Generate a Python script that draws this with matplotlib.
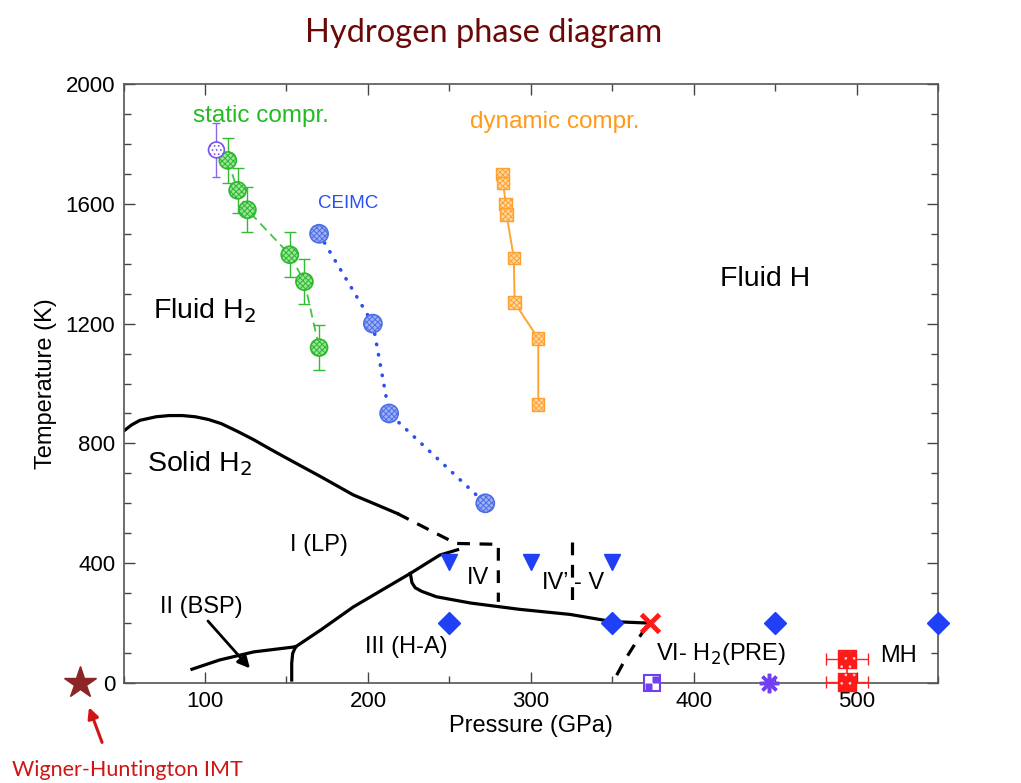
import matplotlib.pyplot as plt
from matplotlib.path import Path
from matplotlib.patches import FancyArrowPatch
from matplotlib.ticker import MultipleLocator

plt.rcParams['font.family'] = ['Liberation Sans', 'DejaVu Sans']
plt.rcParams['hatch.linewidth'] = 0.7

# static compression melting data (DAC)
static_p = [114, 120, 126, 152, 161, 170]
static_t = [1745, 1645, 1580, 1430, 1340, 1120]
static_terr = [75, 75, 75, 75, 75, 75]
old_p = [107]
old_t = [1780]
old_perr = [4]
old_terr = [90]

# CEIMC melting/dissociation points
ceimc_p = [170, 203, 213, 272]
ceimc_t = [1500, 1200, 900, 600]

# dynamic compression points
dyn_p = [282.5, 283, 284.5, 285, 289.5, 290, 304.5, 304.5]
dyn_t = [1700, 1670, 1600, 1565, 1420, 1270, 1150, 930]

# phase boundaries
melt_p = [50, 55, 60, 70, 78, 86, 94, 102, 110, 120, 130, 140, 150, 171, 191, 205, 218]
melt_t = [841, 862, 877, 889, 893, 893, 889, 880, 866, 840, 812, 781, 751, 689, 628, 596, 566]
melt_dash_p = [218, 242, 254, 280, 280]
melt_dash_t = [566, 499, 466, 463, 271]
iv_v_p = [325, 325]
iv_v_t = [471, 271]
i_iii_p = [155.6, 171, 191, 226, 244, 255]
i_iii_t = [121, 177, 254, 366, 427, 445]
ii_i_p = [92, 109, 130, 155.6]
ii_i_t = [46, 77, 104, 121]
ii_iii_p = [155.6, 153.8, 153.2, 153.2]
ii_iii_t = [121, 99, 66, 10]
iii_iv_p = [226, 227, 229, 233, 242, 263, 293, 324, 350, 373]
iii_iv_t = [366, 335, 318, 306, 288, 267, 246, 229, 205, 200]
vi_p = [371, 365, 358, 350]
vi_t = [190, 140, 80, 0]

# QMC / DFT points
tri_p = [250, 300, 350]
tri_t = [405, 405, 405]
dia_p = [250, 350, 450, 550]
dia_t = [200, 200, 200, 200]
cross_p = [373]
cross_t = [200]
sq_p = [374]
sq_t = [0]
ast_p = [446]
ast_t = [0]
mh_p = [494, 494]
mh_t = [80, 5]
mh_perr = [13, 13]

wh_p = [23.3]
wh_t = [0]

fig = plt.figure(figsize=(10.21, 7.83), dpi=100)
ax = fig.add_axes([0.121, 0.1277, 0.798, 0.765])

# boundaries
lw_b = 2.3
dash = (0, (4, 3))
ax.plot(melt_p, melt_t, color='black', lw=lw_b)
ax.plot(melt_dash_p, melt_dash_t, color='black', lw=lw_b, ls=dash)
ax.plot(iv_v_p, iv_v_t, color='black', lw=lw_b, ls=dash)
ax.plot(i_iii_p, i_iii_t, color='black', lw=lw_b)
ax.plot(ii_i_p, ii_i_t, color='black', lw=lw_b)
ax.plot(ii_iii_p, ii_iii_t, color='black', lw=lw_b)
ax.plot(iii_iv_p, iii_iv_t, color='black', lw=lw_b)
ax.plot(vi_p, vi_t, color='black', lw=lw_b, ls=dash)

# static compression
ax.plot(static_p, static_t, color='#44c444', lw=1.3, ls=(0, (5, 3)), zorder=3)
ax.errorbar(static_p, static_t, yerr=static_terr, fmt='none', ecolor='#33bb33',
            elinewidth=1.0, capsize=4, zorder=3)
ax.scatter(static_p, static_t, s=150, facecolor='#9be49b', edgecolor='#2db82d',
           hatch='xxxxxx', linewidth=1.2, zorder=4)
ax.errorbar(old_p, old_t, xerr=old_perr, yerr=old_terr, fmt='none',
            ecolor='#8866ee', elinewidth=1.0, capsize=3, zorder=3)
ax.scatter(old_p, old_t, s=130, facecolor='white', edgecolor='#7755ee',
           hatch='....', linewidth=1.2, zorder=4)

# CEIMC
ax.plot(ceimc_p, ceimc_t, color='#2a50f0', lw=2.6, ls=(0, (0.1, 2.8)),
        dash_capstyle='round', zorder=3)
ax.scatter(ceimc_p, ceimc_t, s=170, facecolor='#9eb0f4', edgecolor='#4d6ee8',
           hatch='xxxxxx', linewidth=1.2, zorder=4)

# dynamic compression
ax.plot(dyn_p, dyn_t, color='#ffa530', lw=1.4, zorder=3)
ax.scatter(dyn_p, dyn_t, s=80, marker='s', facecolor='#ffd8a0',
           edgecolor='#ffa030', hatch='xxxxxx', linewidth=1.0, zorder=4)

# low temperature points
ax.plot(tri_p, tri_t, 'v', ms=12, color='#2040f8', ls='none', zorder=5)
ax.plot(dia_p, dia_t, 'D', ms=11, color='#2040f8', ls='none', zorder=5,
        clip_on=False)
ax.plot(cross_p, cross_t, 'x', ms=13, mew=3.5, color='#ff1a1a', ls='none',
        zorder=6)

# two filled quadrants of the square marker
half = Path([(-1, 0), (0, 0), (0, -1), (-1, -1), (-1, 0),
             (0, 0), (1, 0), (1, 1), (0, 1), (0, 0)],
            [Path.MOVETO, Path.LINETO, Path.LINETO, Path.LINETO, Path.CLOSEPOLY,
             Path.MOVETO, Path.LINETO, Path.LINETO, Path.LINETO, Path.CLOSEPOLY])
ax.plot(sq_p, sq_t, 's', ms=11, mfc='white', mec='#7040f0', mew=1.5,
        ls='none', zorder=6, clip_on=False)
ax.plot(sq_p, sq_t, marker=half, ms=10, mfc='#7040f0', mec='none',
        ls='none', zorder=7, clip_on=False)
ax.plot(ast_p, ast_t, marker=(8, 2, 0), ms=14, mew=2.5, color='#7040f0',
        ls='none', zorder=6, clip_on=False)

ax.plot(mh_p, mh_t, color='#ff2020', lw=1.2, zorder=4)
ax.errorbar(mh_p, mh_t, xerr=mh_perr, fmt='none', ecolor='#ff2020',
            elinewidth=1.0, capsize=4, zorder=4, clip_on=False)
ax.scatter(mh_p, mh_t, s=150, marker='s', facecolor='#ff1a1a',
           edgecolor='#ff1a1a', zorder=5, clip_on=False)
ax.scatter(mh_p, mh_t, s=150, marker='s', facecolor='none',
           edgecolor='#ffd0d0', hatch='..', linewidth=0, zorder=6,
           clip_on=False)

# Wigner-Huntington
ax.plot(wh_p, wh_t, '*', ms=24, color='#8c2525', clip_on=False, zorder=6)

# labels
ax.text(92.6, 1893, 'static compr.', color='#22bb22', fontsize=17.5,
        va='center', ha='left')
ax.text(262.6, 1873, 'dynamic compr.', color='#ff9a1a', fontsize=17.5,
        va='center', ha='left')
ax.text(169.3, 1600, 'CEIMC', color='#2a50f0', fontsize=13.5,
        va='center', ha='left')
ax.text(416, 1350, 'Fluid H', fontsize=20.5, va='center', ha='left')
ax.text(68, 1243, 'Fluid H$_2$', fontsize=20.5, va='center', ha='left')
ax.text(64.4, 733, 'Solid H$_2$', fontsize=20.5, va='center', ha='left')
ax.text(152, 460, 'I (LP)', fontsize=17, va='center', ha='left')
ax.text(260.8, 350, 'IV', fontsize=17, va='center', ha='left')
ax.text(323.5, 333, 'IV\u2019', fontsize=17, va='center', ha='right')
ax.text(326.5, 333, '- V', fontsize=17, va='center', ha='left')
ax.text(198, 120, 'III (H-A)', fontsize=17, va='center', ha='left')
ax.text(377, 97, 'VI- H$_2$(PRE)', fontsize=17, va='center', ha='left')
ax.text(514, 90, 'MH', fontsize=17, va='center', ha='left')
ax.annotate('II (BSP)', xy=(127.6, 49), xytext=(72.4, 253),
            fontsize=17, va='center', ha='left',
            arrowprops=dict(arrowstyle='-|>', color='black', lw=2,
                            mutation_scale=18, shrinkA=0, shrinkB=0,
                            relpos=(0.55, 0)))

ax.set_xlim(50, 550)
ax.set_ylim(0, 2000)
ax.xaxis.set_major_locator(MultipleLocator(100))
ax.xaxis.set_minor_locator(MultipleLocator(50))
ax.yaxis.set_major_locator(MultipleLocator(400))
ax.yaxis.set_minor_locator(MultipleLocator(100))
ax.tick_params(which='both', direction='in', top=True, right=True,
               labelsize=16, color='#444444', pad=6)
ax.tick_params(which='major', length=8, width=1)
ax.tick_params(which='minor', length=5, width=1)
for s in ax.spines.values():
    s.set_color('#555555')
    s.set_linewidth(1.2)
ax.set_xlabel('Pressure (GPa)', fontsize=17, labelpad=2)
ax.set_ylabel('Temperature (K)', fontsize=17, labelpad=6)

fig.text(0.474, 0.958, 'Hydrogen phase diagram', color='#6b0808',
         fontsize=23.5, family='Lato', ha='center', va='center')
fig.text(0.125, 0.0166, 'Wigner-Huntington IMT', color='#d01515',
         fontsize=15.5, family='Lato', ha='center', va='center')
fig.patches.append(FancyArrowPatch(
    (0.1009, 0.0485), (0.0862, 0.100), transform=fig.transFigure,
    arrowstyle='-|>', mutation_scale=16, color='#d01515', lw=2.2))

fig.savefig('out.png', dpi=100)
